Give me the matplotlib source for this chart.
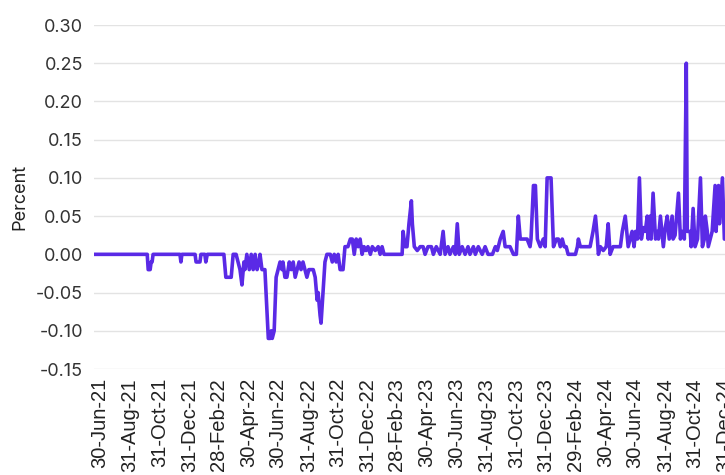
import matplotlib
matplotlib.use('Agg')
import matplotlib.pyplot as plt
import matplotlib.dates as mdates
import pandas as pd

# vertices of the line
dates = [
    "2021-06-18", "2021-10-05", "2021-10-07", "2021-10-11", "2021-10-13", "2021-10-15", "2021-10-17",
    "2021-12-11", "2021-12-13", "2021-12-15", "2022-01-11", "2022-01-13", "2022-01-21", "2022-01-23",
    "2022-01-31", "2022-02-02", "2022-02-05", "2022-03-11", "2022-03-15", "2022-03-26", "2022-03-30",
    "2022-04-05", "2022-04-09", "2022-04-13", "2022-04-17", "2022-04-21", "2022-04-23", "2022-04-27",
    "2022-05-02", "2022-05-06", "2022-05-10", "2022-05-14", "2022-05-18", "2022-05-22", "2022-05-24",
    "2022-05-28", "2022-06-03", "2022-06-07", "2022-06-10", "2022-06-14", "2022-06-16", "2022-06-18",
    "2022-06-22", "2022-06-26", "2022-06-30", "2022-07-04", "2022-07-08", "2022-07-10", "2022-07-14",
    "2022-07-18", "2022-07-23", "2022-07-27", "2022-07-31", "2022-08-04", "2022-08-08", "2022-08-12",
    "2022-08-16", "2022-08-20", "2022-08-24", "2022-08-28", "2022-09-01", "2022-09-06", "2022-09-10",
    "2022-09-14", "2022-09-18", "2022-09-20", "2022-09-24", "2022-09-26", "2022-09-30", "2022-10-04",
    "2022-10-08", "2022-10-15", "2022-10-19", "2022-10-23", "2022-10-27", "2022-10-31", "2022-11-04",
    "2022-11-10", "2022-11-14", "2022-11-20", "2022-11-25", "2022-11-29", "2022-12-03", "2022-12-07",
    "2022-12-11", "2022-12-15", "2022-12-19", "2022-12-23", "2022-12-27", "2022-12-31", "2023-01-05",
    "2023-01-09", "2023-01-15", "2023-01-21", "2023-01-25", "2023-01-29", "2023-02-02", "2023-03-11",
    "2023-03-13", "2023-03-17", "2023-03-21", "2023-03-25", "2023-03-30", "2023-04-01", "2023-04-05",
    "2023-04-11", "2023-04-17", "2023-04-23", "2023-04-27", "2023-05-03", "2023-05-10", "2023-05-14",
    "2023-05-20", "2023-05-28", "2023-06-03", "2023-06-07", "2023-06-13", "2023-06-17", "2023-06-24",
    "2023-06-28", "2023-07-02", "2023-07-06", "2023-07-12", "2023-07-18", "2023-07-24", "2023-07-28",
    "2023-08-04", "2023-08-08", "2023-08-14", "2023-08-22", "2023-08-28", "2023-09-03", "2023-09-12",
    "2023-09-18", "2023-09-22", "2023-09-28", "2023-10-04", "2023-10-08", "2023-10-12", "2023-10-18",
    "2023-10-25", "2023-10-31", "2023-11-04", "2023-11-08", "2023-11-14", "2023-11-22", "2023-11-28",
    "2023-11-30", "2023-12-05", "2023-12-09", "2023-12-13", "2023-12-19", "2023-12-25", "2023-12-29",
    "2024-01-02", "2024-01-10", "2024-01-15", "2024-01-21", "2024-01-25", "2024-01-29", "2024-02-02",
    "2024-02-06", "2024-02-10", "2024-02-14", "2024-02-22", "2024-02-29", "2024-03-04", "2024-03-06",
    "2024-03-10", "2024-03-30", "2024-04-05", "2024-04-10", "2024-04-14", "2024-04-16", "2024-04-20",
    "2024-04-26", "2024-05-02", "2024-05-06", "2024-05-10", "2024-05-16", "2024-05-27", "2024-05-31",
    "2024-06-04", "2024-06-10", "2024-06-16", "2024-06-20", "2024-06-24", "2024-06-28", "2024-07-01",
    "2024-07-05", "2024-07-09", "2024-07-13", "2024-07-17", "2024-07-21", "2024-07-25", "2024-07-27",
    "2024-07-31", "2024-08-02", "2024-08-06", "2024-08-11", "2024-08-15", "2024-08-17", "2024-08-21",
    "2024-08-27", "2024-08-31", "2024-09-04", "2024-09-08", "2024-09-14", "2024-09-16", "2024-09-20",
    "2024-09-27", "2024-10-01", "2024-10-05", "2024-10-09", "2024-10-13", "2024-10-15", "2024-10-21",
    "2024-10-23", "2024-10-27", "2024-10-31", "2024-11-05", "2024-11-11", "2024-11-15", "2024-11-19",
    "2024-11-21", "2024-11-25", "2024-11-27", "2024-12-01", "2024-12-05", "2024-12-11", "2024-12-13",
    "2024-12-18", "2024-12-20", "2024-12-26", "2024-12-30", "2025-01-11",
]
values = [
    0.0, 0.0, -0.02, -0.02, -0.01, -0.01, 0.0,
    0.0, -0.01, 0.0, 0.0, -0.01, -0.01, 0.0,
    0.0, -0.01, 0.0, 0.0, -0.03, -0.03, 0.0,
    0.0, -0.01, -0.02, -0.04, -0.01, -0.02, 0.0,
    -0.02, 0.0, -0.02, 0.0, -0.02, -0.01, 0.0,
    -0.02, -0.02, -0.07, -0.11, -0.11, -0.10, -0.11,
    -0.10, -0.03, -0.02, -0.01, -0.02, -0.01, -0.03,
    -0.03, -0.01, -0.02, -0.01, -0.03, -0.02, -0.01,
    -0.02, -0.01, -0.02, -0.03, -0.02, -0.02, -0.02,
    -0.03, -0.06, -0.05, -0.08, -0.09, -0.05, -0.01,
    0.0, 0.0, -0.01, 0.0, -0.01, 0.0, -0.02,
    -0.02, 0.01, 0.01, 0.02, 0.02, 0.0, 0.02,
    0.01, 0.02, 0.0, 0.01, 0.005, 0.01, 0.0,
    0.01, 0.005, 0.01, 0.0, 0.01, 0.0, 0.0,
    0.03, 0.01, 0.01, 0.04, 0.07, 0.04, 0.01,
    0.005, 0.01, 0.01, 0.0, 0.01, 0.01, 0.0,
    0.01, 0.0, 0.03, 0.0, 0.01, 0.0, 0.01,
    0.0, 0.04, 0.0, 0.01, 0.0, 0.01, 0.0,
    0.01, 0.0, 0.01, 0.0, 0.01, 0.0, 0.0,
    0.01, 0.005, 0.02, 0.03, 0.01, 0.01, 0.01,
    0.0, 0.0, 0.05, 0.02, 0.02, 0.02, 0.01,
    0.02, 0.09, 0.09, 0.02, 0.01, 0.02, 0.01,
    0.10, 0.10, 0.01, 0.02, 0.02, 0.01, 0.02,
    0.01, 0.01, 0.0, 0.0, 0.0, 0.01, 0.02,
    0.01, 0.01, 0.03, 0.05, 0.02, 0.0, 0.01,
    0.005, 0.01, 0.04, 0.0, 0.01, 0.01, 0.01,
    0.03, 0.05, 0.01, 0.02, 0.03, 0.01, 0.03,
    0.02, 0.10, 0.02, 0.035, 0.03, 0.05, 0.02,
    0.05, 0.02, 0.08, 0.02, 0.03, 0.02, 0.05,
    0.01, 0.035, 0.05, 0.02, 0.05, 0.02, 0.025,
    0.08, 0.02, 0.03, 0.02, 0.25, 0.03, 0.03,
    0.01, 0.06, 0.01, 0.02, 0.10, 0.01, 0.02,
    0.05, 0.03, 0.01, 0.02, 0.03, 0.09, 0.03,
    0.09, 0.04, 0.10, 0.02, 0.02,
]

tick_dates = ["2021-06-30", "2021-08-31", "2021-10-31", "2021-12-31", "2022-02-28",
              "2022-04-30", "2022-06-30", "2022-08-31", "2022-10-31", "2022-12-31",
              "2023-02-28", "2023-04-30", "2023-06-30", "2023-08-31", "2023-10-31",
              "2023-12-31", "2024-02-29", "2024-04-30", "2024-06-30", "2024-08-31",
              "2024-10-31", "2024-12-31"]
y_ticks = [-0.15, -0.10, -0.05, 0.00, 0.05, 0.10, 0.15, 0.20, 0.25, 0.30]

x = pd.to_datetime(dates)

fig = plt.figure(figsize=(7.25, 4.75), dpi=100)
# axes runs past the right edge like the reference
ax = fig.add_axes([94 / 725, 1 - 369 / 475, 646 / 725, 344 / 475])

ax.plot(x, values, color='#5a2ae6', linewidth=2.6, solid_joinstyle='round')

ax.set_xlim(pd.Timestamp("2021-06-18"), pd.Timestamp("2025-01-31"))
ax.set_ylim(-0.15, 0.30)
ax.set_yticks(y_ticks)
ax.set_yticklabels([f"{v:.2f}" for v in y_ticks], family='Inter', fontsize=13, color='#333333')
ax.set_xticks(pd.to_datetime(tick_dates))
ax.xaxis.set_major_formatter(mdates.DateFormatter('%d-%b-%y'))
for lab in ax.get_xticklabels():
    lab.set_rotation(90)
    lab.set_family('Liberation Sans')
    lab.set_fontsize(14.5)
    lab.set_color('#222222')
    lab.set_va('top')
    lab.set_ha('center')

ax.tick_params(axis='both', length=0)
ax.tick_params(axis='y', pad=8)
ax.tick_params(axis='x', pad=6.5)
ax.grid(axis='y', color='#e3e3e3', linewidth=1)
ax.set_axisbelow(True)
for s in ax.spines.values():
    s.set_visible(False)

ax.set_ylabel('Percent', family='Inter', fontsize=13, color='#222222')
ax.yaxis.set_label_coords(-66 / 646, 0.5)

fig.savefig('out.png', dpi=100)
plt.close(fig)
